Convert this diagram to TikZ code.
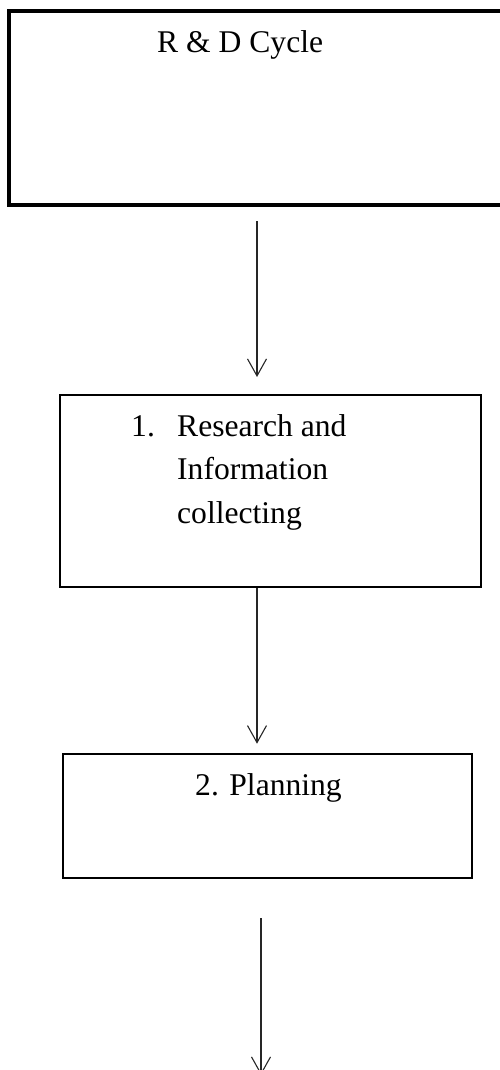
\documentclass[tikz,border=0pt]{standalone}
\usepackage{fontspec}
\setmainfont{Liberation Serif}
\usetikzlibrary{arrows.meta}
\begin{document}
\begin{tikzpicture}[x=1pt,y=-1pt,
  box/.style={draw=black, line width=2.6pt, inner sep=0pt},
  bigbox/.style={draw=black, line width=4pt, inner sep=0pt},
  txt/.style={inner sep=0pt, anchor=base west, font=\fontsize{31.6}{43.5}\selectfont},
  arr/.style={draw=black!85, line width=1.1pt, -{Straight Barb[length=17pt,width=19pt,line width=1.1pt]}}]
\useasboundingbox (0,0) rectangle (499,1070);
% boxes
\node[bigbox, minimum width=498pt, minimum height=194pt] (b1) at (258,108) {};
\node[box, minimum width=421pt, minimum height=192pt] (b2) at (270.5,491) {};
\node[box, minimum width=409pt, minimum height=124pt] (b3) at (267.5,816) {};
% texts
\node[txt] (t0) at (157,53) {R \& D Cycle};
\node[txt] (n1) at (131,436) {1.};
\node[txt] (t1a) at (177,436) {Research and};
\node[txt] (t1b) at (177,479.5) {Information};
\node[txt] (t1c) at (177,523) {collecting};
\node[txt] (t2) at (195,795) {2. Planning};
% connectors
\coordinate (a1s) at (257,221);
\coordinate (a1e) at (257,377);
\coordinate (a3s) at (261,918);
\coordinate (a3e) at (261,1075);
\draw[arr] (a1s) -- (a1e);
\draw[arr, shorten >=9pt] (b2.south -| a1s) -- (b3.north -| a1s);
\draw[arr] (a3s) -- (a3e);
\end{tikzpicture}
\end{document}
